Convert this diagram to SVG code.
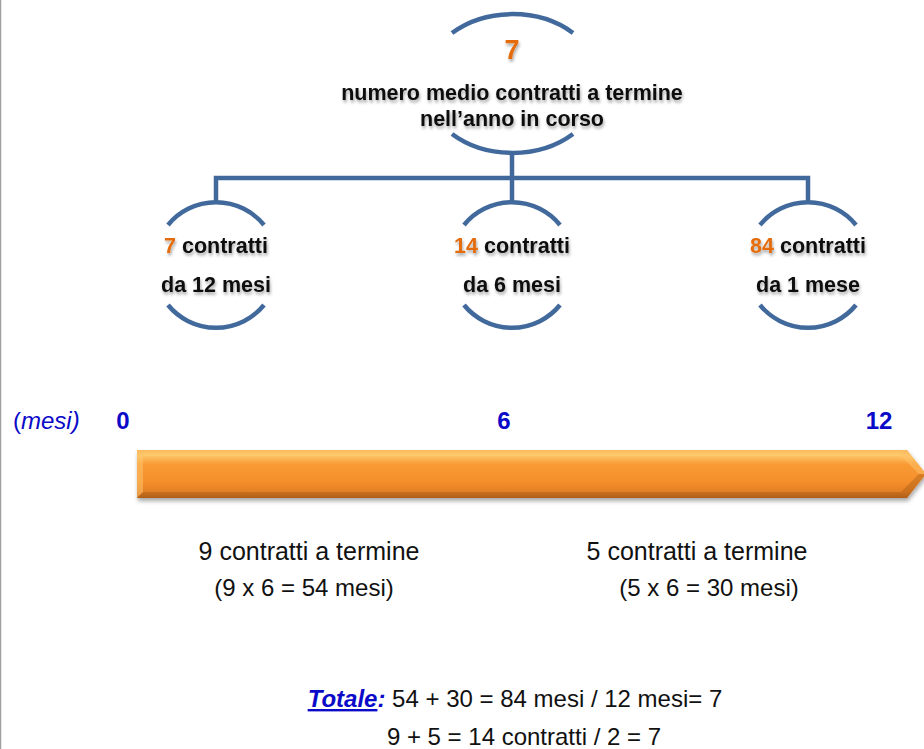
<svg xmlns="http://www.w3.org/2000/svg" width="924" height="749" viewBox="0 0 924 749">
<defs>
<style>
.arc{fill:none;stroke:#41699C;stroke-width:4.5;stroke-linecap:butt}
.conn{fill:none;stroke:#41699C;stroke-width:4.5;stroke-linejoin:miter}
.nb{font-family:"Liberation Sans",Arial,sans-serif;font-weight:bold;font-size:21.5px;fill:#111;text-anchor:middle}
.or{fill:#E46C0A}
.big{font-size:27px}
.ax{font-family:"Liberation Sans",Arial,sans-serif;font-size:24px;font-weight:bold;fill:#0A0AC8;text-anchor:middle}
.tx{font-family:"Liberation Sans",Arial,sans-serif;font-size:24px;fill:#111;text-anchor:middle}
.tx25{font-size:25px}
</style>
<filter id="ts" x="-10%" y="-30%" width="120%" height="170%">
<feDropShadow dx="1" dy="2.5" stdDeviation="1.6" flood-color="#000" flood-opacity="0.35"/>
</filter>
<filter id="as" x="-5%" y="-30%" width="110%" height="170%">
<feDropShadow dx="1" dy="3" stdDeviation="2" flood-color="#000" flood-opacity="0.35"/>
</filter>
<linearGradient id="og" x1="0" y1="0" x2="0" y2="1">
<stop offset="0" stop-color="#F6A646"/>
<stop offset="0.12" stop-color="#FCC466"/>
<stop offset="0.3" stop-color="#F99A34"/>
<stop offset="0.65" stop-color="#F48F2C"/>
<stop offset="0.88" stop-color="#E27F24"/>
<stop offset="1" stop-color="#B9661C"/>
</linearGradient>
</defs>
<rect x="0" y="0" width="924" height="749" fill="#fff"/>
<line x1="0.5" y1="0" x2="0.5" y2="749" stroke="#A0A0A0" stroke-width="1.5"/>

<g id="connectors">
<path class="conn" d="M216,203 V178 H808 V203"/>
<path class="conn" d="M512,151 V203"/>
</g>

<g id="node-top">
<path class="arc" d="M452,33 A88,69 0 0 1 573,33"/>
<path class="arc" d="M452,134 A88,69 0 0 0 573,134"/>
<g filter="url(#ts)">
<text class="nb or big" x="512" y="59">7</text>
<text class="nb" x="512" y="100">numero medio contratti a termine</text>
<text class="nb" x="512" y="126">nell’anno in corso</text>
</g>
</g>

<g id="node-left">
<path class="arc" d="M168,225 A62,62 0 0 1 264,225"/>
<path class="arc" d="M168,305 A62,62 0 0 0 264,305"/>
<g filter="url(#ts)">
<text class="nb" x="216" y="253"><tspan class="or">7</tspan> contratti</text>
<text class="nb" x="216" y="292">da 12 mesi</text>
</g>
</g>

<g id="node-mid">
<path class="arc" d="M464,225 A62,62 0 0 1 560,225"/>
<path class="arc" d="M464,305 A62,62 0 0 0 560,305"/>
<g filter="url(#ts)">
<text class="nb" x="512" y="253"><tspan class="or">14</tspan> contratti</text>
<text class="nb" x="512" y="292">da 6 mesi</text>
</g>
</g>

<g id="node-right">
<path class="arc" d="M760,225 A62,62 0 0 1 856,225"/>
<path class="arc" d="M760,305 A62,62 0 0 0 856,305"/>
<g filter="url(#ts)">
<text class="nb" x="808" y="253"><tspan class="or">84</tspan> contratti</text>
<text class="nb" x="808" y="292">da 1 mese</text>
</g>
</g>

<g id="axis-labels">
<text x="13" y="429" font-family="'Liberation Sans',Arial,sans-serif" font-size="24" fill="#0A0AC8"><tspan font-style="normal">(</tspan><tspan font-style="italic">mesi)</tspan></text>
<text class="ax" x="123" y="429">0</text>
<text class="ax" x="504" y="429">6</text>
<text class="ax" x="879" y="429">12</text>
</g>

<g id="timeline-arrow">
<polygon points="137,450 907,450 926,474 907,498 137,498" fill="url(#og)" filter="url(#as)"/>
<polygon points="137,450 907,450 901,456 143,456" fill="#FFD27A" opacity="0.45"/>
<polygon points="137,450 143,456 143,492 137,498" fill="#FFC870" opacity="0.5"/>
<polygon points="137,498 143,492 901,492 907,498" fill="#9A5414" opacity="0.35"/>
<polygon points="907,450 926,474 919,474 901,456" fill="#FFC870" opacity="0.45"/>
<polygon points="907,498 926,474 919,474 901,492" fill="#9A5414" opacity="0.35"/>
</g>

<g id="notes">
<text class="tx tx25" x="309" y="560">9 contratti a termine</text>
<text class="tx" x="304" y="596">(9 x 6 = 54 mesi)</text>
<text class="tx tx25" x="697" y="560">5 contratti a termine</text>
<text class="tx" x="709" y="596">(5 x 6 = 30 mesi)</text>
<text class="tx" x="515" y="707"><tspan font-weight="bold" font-style="italic" fill="#0A0AC8" text-decoration="underline">Totale</tspan><tspan font-weight="bold" font-style="italic" fill="#0A0AC8">:</tspan> 54 + 30 = 84 mesi / 12 mesi= 7</text>
<text class="tx" x="524" y="745">9 + 5 = 14 contratti / 2 = 7</text>
</g>
</svg>
